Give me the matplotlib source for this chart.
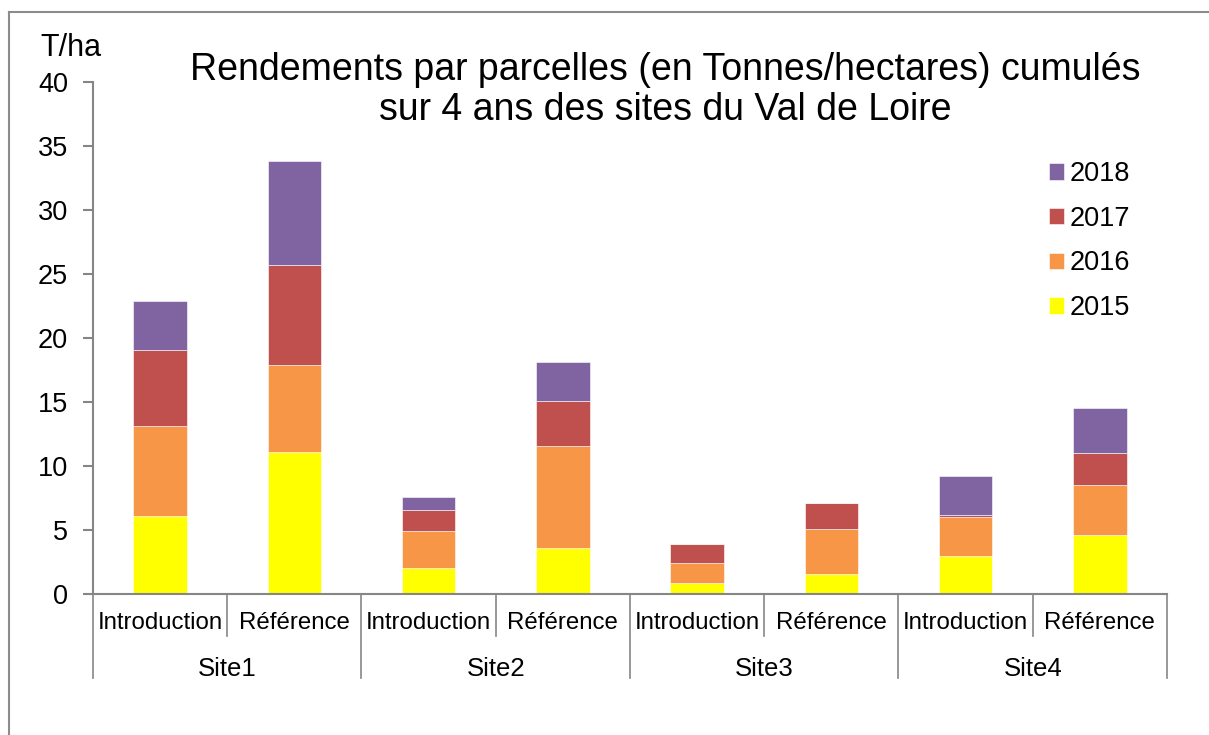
import matplotlib
matplotlib.use("Agg")
import matplotlib.pyplot as plt
import numpy as np
from matplotlib.lines import Line2D
from matplotlib.transforms import blended_transform_factory

plt.rcParams['font.family'] = ['Liberation Sans', 'DejaVu Sans']

sites = ["Site1", "Site2", "Site3", "Site4"]
parcels = ["Introduction", "Référence"]
years = ["2015", "2016", "2017", "2018"]
colors = ["#FFFF00", "#F79646", "#C0504D", "#8064A2"]

# order: S1 Intro, S1 Ref, S2 Intro, S2 Ref, S3 Intro, S3 Ref, S4 Intro, S4 Ref
y2015 = [6.1, 11.1, 2.0, 3.6, 0.85, 1.6, 3.0, 4.6]
y2016 = [7.0, 6.8, 2.9, 8.0, 1.55, 3.5, 3.0, 3.9]
y2017 = [6.0, 7.8, 1.7, 3.5, 1.5, 2.0, 0.2, 2.5]
y2018 = [3.8, 8.15, 1.0, 3.0, 0.0, 0.0, 3.0, 3.5]
series = [y2015, y2016, y2017, y2018]

W, H = 1209, 735
fig = plt.figure(figsize=(W / 100, H / 100), dpi=100)
ax = fig.add_axes([93 / W, (H - 594) / H, (1167 - 93) / W, 512 / H])

n = len(sites) * len(parcels)
x = np.arange(n)
bottom = np.zeros(n)
handles = []
for vals, c, lab in zip(series, colors, years):
    v = np.array(vals)
    b = ax.bar(x, v, width=0.4, bottom=bottom, color=c, edgecolor="white",
               linewidth=0.4, label=lab)
    bottom += v
    handles.append(b)

ax.set_xlim(-0.5, n - 0.5)
ax.set_ylim(0, 40)
ax.set_yticks(range(0, 41, 5))
ax.tick_params(axis='y', labelsize=19.5, length=7, width=1.5, color="#868686", pad=11)
ax.set_xticks([])
for s in ["top", "right"]:
    ax.spines[s].set_visible(False)
ax.spines["left"].set_color("#868686")
ax.spines["left"].set_linewidth(1.5)
ax.spines["bottom"].set_color("#868686")
ax.spines["bottom"].set_linewidth(1.5)

trans = blended_transform_factory(ax.transData, ax.transAxes)
# category separators
for i in range(n + 1):
    xx = i - 0.5
    low = -0.164 if i % 2 == 0 else -0.083
    ax.add_line(Line2D([xx, xx], [0, low], transform=trans, color="#868686",
                       lw=1.2, clip_on=False))
for i in range(n):
    ax.text(i, -0.057, parcels[i % 2], transform=trans, ha="center", va="center",
            fontsize=17.3)
for j, s in enumerate(sites):
    ax.text(2 * j + 0.5, -0.147, s, transform=trans, ha="center", va="center",
            fontsize=18.5)

# legend (reversed)
leg = fig.legend(handles[::-1], years[::-1], loc="upper left",
                 bbox_to_anchor=(1049 / W, (H - 161) / H), frameon=False,
                 fontsize=19.5, handlelength=0.55, handleheight=0.55,
                 handletextpad=0.2, labelspacing=0.69, borderpad=0,
                 borderaxespad=0)

fig.text(665 / W, (H - 90) / H,
         "Rendements par parcelles (en Tonnes/hectares) cumulés\nsur 4 ans des sites du Val de Loire",
         ha="center", va="center", fontsize=27, linespacing=1.12)
fig.text(40 / W, (H - 48) / H, "T/ha", ha="left", va="center", fontsize=22)

# outer border (top and left only visible)
fig.add_artist(Line2D([9 / W, 1.0], [(H - 12) / H, (H - 12) / H],
                      transform=fig.transFigure, color="#8c8c8c", lw=1.5))
fig.add_artist(Line2D([9 / W, 9 / W], [0, (H - 12) / H],
                      transform=fig.transFigure, color="#8c8c8c", lw=1.5))

fig.savefig("out.png", dpi=100)
